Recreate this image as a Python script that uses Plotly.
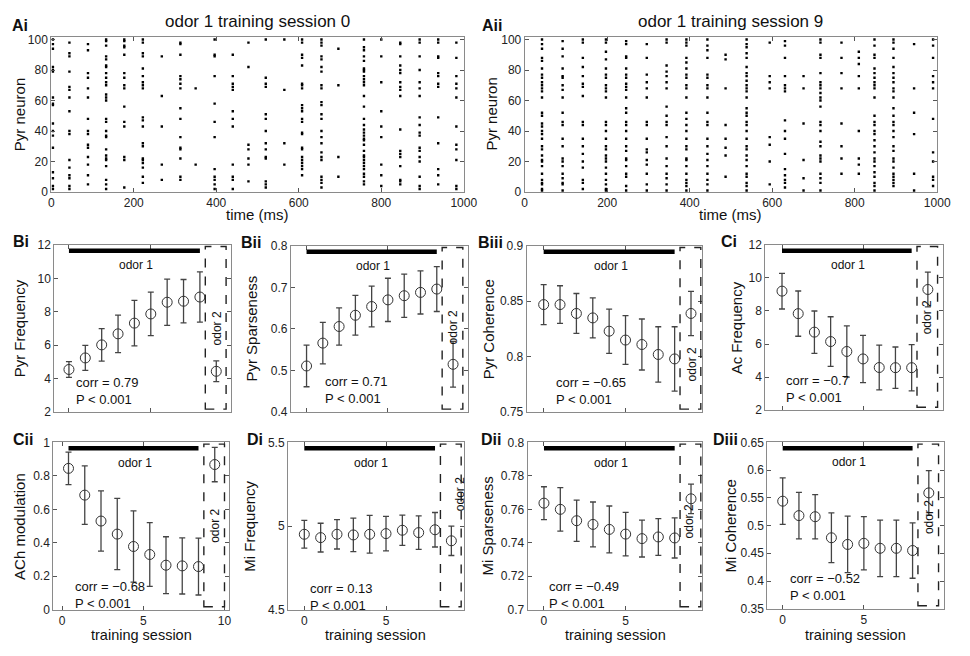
import plotly.graph_objects as go

# the page has an 8px body margin, so a 954x640 figure fills the 970x656 window exactly
W, H = 954, 640
OFF = 8
FONT = "Liberation Sans, Arial, Helvetica, sans-serif"

# ---- raster data: spike columns (ms) and the neurons firing in each column ----
sess0_times = [4, 44, 89, 133, 177, 222, 268, 313, 350, 396, 440, 478, 520, 565,
               608, 655, 696, 758, 800, 846, 893, 938, 982]
sess0_cells = [
    [100, 97, 94, 82, 80, 79, 62, 58, 57, 45, 40, 37, 29, 13, 9, 4, 2],
    [98, 91, 89, 79, 69, 67, 62, 53, 40, 38, 21, 16, 11, 9, 4, 2],
    [97, 93, 78, 75, 68, 62, 48, 40, 38, 31, 29, 23, 18, 11, 5],
    [100, 99, 96, 89, 87, 83, 82, 78, 75, 72, 70, 64, 62, 60, 48, 46, 40, 37, 36, 28, 24, 22, 21, 17, 8, 5, 2],
    [100, 99, 96, 95, 90, 78, 75, 70, 68, 56, 46, 43, 23, 21, 3],
    [100, 98, 91, 89, 81, 76, 72, 70, 68, 49, 47, 43, 32, 30, 22, 21, 19, 16, 10, 6],
    [89, 63, 43, 18, 8],
    [98, 97, 90, 76, 74, 71, 68, 55, 48, 36, 29, 28, 22, 10, 8],
    [68, 18],
    [100, 90, 89, 76, 58, 46, 36, 15, 10, 8, 5, 2],
    [90, 76, 71, 69, 67, 53, 48, 43, 18, 10, 8, 2],
    [98, 82, 31, 28, 22, 18, 7],
    [100, 75, 71, 69, 51, 48, 40, 32, 28, 23, 22, 7, 5, 3],
    [100, 67, 32, 18],
    [100, 98, 90, 88, 83, 71, 70, 68, 57, 55, 53, 48, 46, 39, 38, 29, 28, 23, 21, 19, 17, 15, 11],
    [100, 98, 96, 89, 87, 82, 79, 70, 68, 59, 57, 51, 48, 40, 36, 32, 26, 23, 21, 10, 8, 6, 3],
    [94, 70, 23, 10],
    [100, 95, 93, 89, 86, 81, 80, 79, 76, 74, 72, 70, 63, 56, 48, 44, 41, 39, 37, 35, 34, 31, 27,
     24, 23, 21, 19, 17, 15, 12, 10, 7, 5],
    [100, 89, 72, 53, 43, 36, 18, 11, 4],
    [98, 97, 89, 83, 80, 78, 72, 69, 67, 63, 41, 27, 25, 23, 17, 8, 7, 5],
    [100, 98, 89, 80, 72, 68, 63, 49, 44, 39, 37, 29, 27, 23, 20, 10, 4, 2],
    [100, 98, 89, 88, 78, 76, 71, 69, 49, 32, 15, 11, 5],
    [98, 88, 76, 71, 68, 62, 43, 31, 28, 21, 4, 2],
]

sess9_times = [42, 92, 141, 197, 246, 296, 344, 392, 443, 487, 538, 594, 631, 676,
               717, 768, 810, 848, 894, 944, 990]
sess9_cells = [
    [100, 97, 94, 88, 86, 81, 77, 75, 72, 70, 68, 66, 62, 52, 50, 45, 43, 40, 38, 35, 30, 28, 24,
     21, 20, 17, 12, 8, 6, 5, 2, 1],
    [99, 94, 89, 81, 76, 75, 70, 67, 62, 52, 46, 44, 35, 30, 22, 20, 17, 12, 9, 6, 5, 1],
    [100, 98, 88, 82, 76, 71, 69, 63, 46, 44, 35, 30, 25, 20, 16, 8, 6, 2],
    [100, 98, 92, 87, 81, 77, 75, 70, 68, 66, 62, 46, 44, 40, 35, 30, 28, 24, 22, 20, 16, 12, 8, 5, 2, 1],
    [99, 97, 89, 88, 81, 77, 75, 71, 69, 67, 62, 55, 52, 46, 44, 40, 35, 30, 27, 22, 21, 17, 12, 10, 4, 1],
    [97, 88, 77, 72, 68, 62, 46, 44, 35, 28, 26, 21, 18, 12, 5, 1],
    [100, 98, 83, 79, 76, 72, 68, 56, 50, 46, 44, 36, 30, 22, 17, 12, 9, 5, 1],
    [100, 98, 96, 88, 85, 81, 77, 75, 70, 68, 62, 52, 48, 44, 40, 35, 30, 28, 22, 21, 17, 12, 8, 6, 4, 1],
    [100, 96, 93, 88, 77, 75, 70, 68, 62, 52, 46, 44, 35, 30, 25, 21, 17, 12, 8, 5, 1],
    [90, 87, 68, 44, 35, 29, 24, 10],
    [100, 97, 95, 91, 88, 82, 78, 76, 73, 70, 68, 66, 62, 55, 52, 50, 46, 44, 40, 35, 30, 28, 24,
     21, 17, 12, 10, 6, 4, 1],
    [98, 76, 72, 68, 36, 31, 20, 5],
    [99, 96, 88, 76, 70, 68, 66, 47, 40, 35, 25, 15, 11, 8, 6, 3],
    [76, 68, 45, 21, 9, 1],
    [100, 98, 90, 88, 78, 72, 70, 68, 65, 62, 60, 56, 46, 44, 40, 33, 30, 24, 22, 20, 12, 9, 6, 1],
    [98, 88, 78, 68, 45, 30, 22, 12],
    [92, 88, 84, 76, 68, 40, 22, 18, 12],
    [100, 96, 90, 88, 81, 78, 75, 72, 70, 68, 62, 50, 46, 44, 40, 38, 34, 30, 26, 22, 20, 17, 13, 10, 6, 4, 1],
    [100, 98, 94, 88, 82, 78, 75, 72, 68, 66, 62, 55, 50, 46, 44, 40, 36, 30, 27, 22, 20, 16, 12, 10, 8, 6, 4],
    [97, 68, 52, 38, 12, 1],
    [100, 96, 88, 76, 72, 68, 48, 26, 20, 10, 8, 4],
]

# ---- training session statistics ----
sessions = [0, 1, 2, 3, 4, 5, 6, 7, 8]
odor2_session = 9

pyr_freq = [4.55, 5.24, 6.02, 6.68, 7.32, 7.87, 8.57, 8.63, 8.88]
pyr_freq_err = [0.47, 0.75, 0.97, 1.12, 1.36, 1.3, 1.38, 1.3, 1.5]
pyr_freq_odor2 = [4.44, 0.62]

pyr_sparse = [0.511, 0.566, 0.606, 0.633, 0.654, 0.670, 0.680, 0.688, 0.696]
pyr_sparse_err = [0.05, 0.05, 0.045, 0.048, 0.049, 0.052, 0.052, 0.052, 0.054]
pyr_sparse_odor2 = [0.515, 0.055]

pyr_coh = [0.847, 0.847, 0.839, 0.835, 0.823, 0.815, 0.811, 0.802, 0.798]
pyr_coh_err = [0.018, 0.017, 0.018, 0.018, 0.02, 0.022, 0.023, 0.025, 0.029]
pyr_coh_odor2 = [0.839, 0.02]

ac_freq = [9.2, 7.84, 6.72, 6.15, 5.55, 5.1, 4.58, 4.57, 4.57]
ac_freq_err = [1.08, 1.37, 1.28, 1.5, 1.55, 1.43, 1.35, 1.25, 1.4]
ac_freq_odor2 = [9.3, 1.05]

ach_mod = [0.845, 0.685, 0.53, 0.452, 0.378, 0.33, 0.266, 0.262, 0.258]
ach_mod_err = [0.097, 0.175, 0.18, 0.213, 0.213, 0.19, 0.17, 0.168, 0.17]
ach_mod_odor2 = [0.868, 0.103]

mi_freq = [4.951, 4.931, 4.951, 4.947, 4.951, 4.955, 4.975, 4.961, 4.978]
mi_freq_err = [0.083, 0.086, 0.088, 0.1, 0.113, 0.103, 0.09, 0.1, 0.103]
mi_freq_odor2 = [4.912, 0.088]

mi_sparse = [0.7637, 0.760, 0.7532, 0.751, 0.748, 0.7452, 0.7425, 0.7435, 0.7429]
mi_sparse_err = [0.0098, 0.013, 0.0123, 0.0134, 0.014, 0.013, 0.011, 0.011, 0.012]
mi_sparse_odor2 = [0.7663, 0.0088]

mi_coh = [0.544, 0.518, 0.516, 0.478, 0.466, 0.468, 0.459, 0.459, 0.455]
mi_coh_err = [0.042, 0.042, 0.04, 0.045, 0.051, 0.048, 0.051, 0.051, 0.05]
mi_coh_odor2 = [0.559, 0.04]

# tick labels
ticks_neuron = [0, 20, 40, 60, 80, 100]
ticks_time = [0, 200, 400, 600, 800, 1000]
ticks_session = [0, 5, 10]
ticks_freq = [2, 4, 6, 8, 10, 12]
ticks_sparse = [0.4, 0.5, 0.6, 0.7, 0.8]
ticks_coh = [0.75, 0.8, 0.85, 0.9]
ticks_ach = [0, 0.2, 0.4, 0.6, 0.8, 1]
ticks_mifreq = [4.5, 5, 5.5]
ticks_misparse = [0.7, 0.72, 0.74, 0.76, 0.78, 0.8]
ticks_micoh = [0.35, 0.4, 0.45, 0.5, 0.55, 0.6, 0.65]


# window pixel -> paper fraction
def px(x):
    return (x - OFF) / W


def py(y):
    return 1 - (y - OFF) / H


def axis_style(**kw):
    d = dict(showline=True, linecolor='#8a8a8a', linewidth=1, mirror='ticks',
             ticks='inside', ticklen=4, tickcolor='#555', showgrid=False,
             zeroline=False, tickfont=dict(size=12, color='#222'))
    d.update(kw)
    return d


fig = go.Figure()
layout = {}
annotations = []
shapes = []


def text(x, y, s, size=13, xref='paper', yref='paper', xanchor='center', **kw):
    annotations.append(dict(x=x, y=y, xref=xref, yref=yref, text=s, showarrow=False,
                            xanchor=xanchor, yanchor='middle',
                            font=dict(size=size, color='#111', family=FONT), **kw))


# ---- raster panels ----
rasters = [
    dict(times=sess0_times, cells=sess0_cells, box=(49, 469, 30, 189),
         title='odor 1 training session 0', label='Ai', lab_x=7, ytx=16),
    dict(times=sess9_times, cells=sess9_cells, box=(531, 951, 30, 189),
         title='odor 1 training session 9', label='Aii', lab_x=486, ytx=497),
]
for i, r in enumerate(rasters, start=1):
    xs, ys = [], []
    for t, cells in zip(r['times'], r['cells']):
        for c in cells:
            xs.append(t)
            ys.append(c)
    fig.add_trace(go.Scatter(x=xs, y=ys, mode='markers', xaxis=f'x{i}', yaxis=f'y{i}',
                             marker=dict(symbol='square', size=2.4, color='black', line_width=0),
                             showlegend=False))
    l, rr, t, b = r['box']
    layout[f'xaxis{i}'] = axis_style(domain=[px(l), px(rr)], range=[0, 1000], tickvals=ticks_time,
                                     anchor=f'y{i}')
    layout[f'yaxis{i}'] = axis_style(domain=[py(b), py(t)], range=[0, 102], tickvals=ticks_neuron,
                                     anchor=f'x{i}')
    text(px((l + rr) / 2), py(15), r['title'], size=17)
    text(px((l + rr) / 2), py(212), 'time (ms)', size=15)
    text(px(r['ytx']), py((t + b) / 2), 'Pyr neuron', size=15, textangle=-90)
    text(px(r['lab_x']), py(19), f"<b>{r['label']}</b>", size=16, xanchor='left')

# ---- session panels ----
panels = [
    dict(label='Bi', ytitle='Pyr Frequency', y=pyr_freq, e=pyr_freq_err, o2=pyr_freq_odor2,
         yt=ticks_freq, yr=[2, 12], corr='corr = 0.79', box=(52, 232, 243, 414), xr=[-0.9, 9.9],
         shift=0, cx=0.3, cy=0.127, o2x=9.1, o2y=0.5, ytx=17, labx=8, bottom=False),
    dict(label='Bii', ytitle='Pyr Sparseness', y=pyr_sparse, e=pyr_sparse_err, o2=pyr_sparse_odor2,
         yt=ticks_sparse, yr=[0.4, 0.8], corr='corr = 0.71', box=(293, 473, 244, 414),
         xr=[-0.96, 9.9], shift=0, cx=1.0, cy=0.131, o2x=9.0, o2y=0.51, ytx=253, labx=240,
         bottom=False),
    dict(label='Biii', ytitle='Pyr Coherence', y=pyr_coh, e=pyr_coh_err, o2=pyr_coh_odor2,
         yt=ticks_coh, yr=[0.75, 0.9], corr='corr = \u22120.65', box=(533, 712, 244, 414),
         xr=[-1.04, 9.7], shift=0, cx=0.62, cy=0.13, o2x=9.03, o2y=0.29, ytx=495, labx=481,
         bottom=False),
    dict(label='Ci', ytitle='Ac Frequency', y=ac_freq, e=ac_freq_err, o2=ac_freq_odor2,
         yt=ticks_freq, yr=[2, 12], corr='corr = \u22120.7', box=(776, 957, 243, 412),
         xr=[-1.03, 9.94], shift=0, cx=0.1, cy=0.125, o2x=8.93, o2y=0.56, ytx=747, labx=729,
         bottom=False),
    dict(label='Cii', ytitle='ACh modulation', y=ach_mod, e=ach_mod_err, o2=ach_mod_odor2,
         yt=ticks_ach, yr=[0, 1], corr='corr = \u22120.68', box=(51, 230, 445, 616),
         xr=[-0.54, 10.28], shift=0.4, cx=0.26, cy=0.085, o2x=9.0, o2y=0.5, ytx=16, labx=8,
         bottom=True),
    dict(label='Di', ytitle='Mi Frequency', y=mi_freq, e=mi_freq_err, o2=mi_freq_odor2,
         yt=ticks_mifreq, yr=[4.5, 5.5], corr='corr = 0.13', box=(290, 469, 445, 616),
         xr=[-1.0, 9.76], shift=0, cx=0.2, cy=0.075, o2x=9.52, o2y=0.69, ytx=250, labx=246,
         bottom=True),
    dict(label='Dii', ytitle='Mi Sparseness', y=mi_sparse, e=mi_sparse_err, o2=mi_sparse_odor2,
         yt=ticks_misparse, yr=[0.7, 0.8], corr='corr = \u22120.49', box=(534, 712, 445, 616),
         xr=[-1.0, 9.7], shift=0, cx=0.2, cy=0.09, o2x=8.9, o2y=0.53, ytx=493, labx=484,
         bottom=True),
    dict(label='Diii', ytitle='Mi Coherence', y=mi_coh, e=mi_coh_err, o2=mi_coh_odor2,
         yt=ticks_micoh, yr=[0.35, 0.65], corr='corr = \u22120.52', box=(778, 958, 445, 615),
         xr=[-0.95, 9.94], shift=0, cx=0.3, cy=0.13, o2x=9.0, o2y=0.55, ytx=741, labx=721,
         bottom=True),
]

point_style = dict(symbol='circle-open', size=10, color='#333', line=dict(width=1, color='#333'))
err_style = dict(type='data', thickness=1.3, width=3, color='#444')

for k, p in enumerate(panels, start=3):
    xa, ya = f'x{k}', f'y{k}'
    sh = p['shift']
    xs = [s + sh for s in sessions]
    fig.add_trace(go.Scatter(x=xs, y=p['y'], mode='markers', xaxis=xa, yaxis=ya,
                             marker=point_style, error_y=dict(array=p['e'], **err_style),
                             showlegend=False))
    fig.add_trace(go.Scatter(x=[odor2_session + sh], y=[p['o2'][0]], mode='markers',
                             xaxis=xa, yaxis=ya, marker=point_style,
                             error_y=dict(array=[p['o2'][1]], **err_style), showlegend=False))
    l, r, t, b = p['box']
    layout[f'xaxis{k}'] = axis_style(domain=[px(l), px(r)], range=p['xr'], tickvals=ticks_session,
                                     showticklabels=p['bottom'], anchor=ya)
    layout[f'yaxis{k}'] = axis_style(domain=[py(b), py(t)], range=p['yr'], tickvals=p['yt'],
                                     ticktext=[f'{v:g}' for v in p['yt']], anchor=xa)
    # odor 1 bar over the training sessions
    shapes.append(dict(type='line', xref=xa, yref=f'{ya} domain',
                       x0=sessions[0] + sh, x1=sessions[-1] + sh, y0=0.965, y1=0.965,
                       line=dict(color='black', width=4.5)))
    # dashed box around the odor 2 probe
    shapes.append(dict(type='rect', xref=xa, yref=f'{ya} domain',
                       x0=odor2_session + sh - 0.67, x1=odor2_session + sh + 0.6,
                       y0=0.018, y1=0.99, line=dict(color='#222', width=1.4, dash='dash')))
    text((sessions[0] + sessions[-1]) / 2 + sh + 0.1, 0.88, 'odor 1', size=12,
         xref=xa, yref=f'{ya} domain')
    text(p['o2x'] + sh, p['o2y'], 'odor 2', size=12, xref=xa, yref=f'{ya} domain',
         textangle=-90)
    text(p['cx'] + sh, p['cy'], f"{p['corr']}<br>P < 0.001", size=13, xref=xa,
         yref=f'{ya} domain', xanchor='left', align='left')
    text(px(p['ytx']), py((t + b) / 2), p['ytitle'], size=15, textangle=-90)
    text(px(p['labx']), py(t - 3), f"<b>{p['label']}</b>", size=16, xanchor='left')
    if p['bottom']:
        text(px((l + r) / 2), py(642), 'training session', size=14.5)

fig.update_layout(
    width=W, height=H,
    margin=dict(l=0, r=0, t=0, b=0),
    paper_bgcolor='white', plot_bgcolor='white',
    font=dict(family=FONT, color='#111'),
    annotations=annotations, shapes=shapes,
    **layout,
)

fig.write_html("out.html")
